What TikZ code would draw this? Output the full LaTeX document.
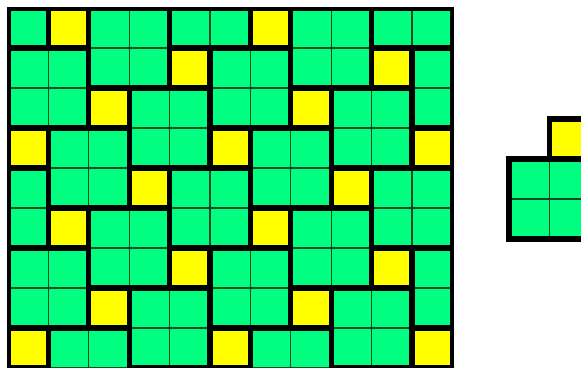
\documentclass[tikz,border=0pt]{standalone}
\definecolor{pgreen}{RGB}{0,255,128}
\definecolor{pyellow}{RGB}{255,255,0}
\definecolor{thinline}{RGB}{20,70,40}
\tikzset{
  cellbox/.style={draw=thinline, line width=1.1pt},
  outline/.style={draw=black, line width=5.2pt, line join=miter},
}
\begin{document}
\begin{tikzpicture}[x=1pt,y=-1pt]
\useasboundingbox (0,0) rectangle (581,367);
\def\W{40.4}
\def\H{40}
\begin{scope}
  \clip (8.5,8.5) rectangle (451.5,380);
  % cells
  \foreach \r in {0,...,9} {
    \foreach \c in {0,...,10} {
      \pgfmathtruncatemacro\m{mod(1+3*\r-\c+50,5)}
      \ifnum\m=0 \def\fc{pyellow}\else\def\fc{pgreen}\fi
      \path[cellbox, fill=\fc] (8+\c*\W, 8+\r*\H) rectangle ++(\W,\H);
    }
  }
  % piece outlines: yellow squares and 2x2 green blocks
  \foreach \r in {-2,...,9} {
    \foreach \c in {-1,...,11} {
      \pgfmathtruncatemacro\m{mod(1+3*\r-\c+50,5)}
      \ifnum\m=0
        \path[outline] (8+\c*\W, 8+\r*\H) rectangle ++(\W,\H);
        \path[outline] (8+\c*\W-\W, 8+\r*\H+\H) rectangle ++(2*\W,2*\H);
      \fi
    }
  }
\end{scope}
% outer frame
\draw[line width=4pt] (8.5,380) -- (8.5,8.5) -- (451.5,8.5) -- (451.5,380);
% single piece on the right
\path[cellbox, fill=pgreen] (509,159) rectangle ++(\W,\H);
\path[cellbox, fill=pgreen] (509+\W,159) rectangle ++(\W,\H);
\path[cellbox, fill=pgreen] (509,159+\H) rectangle ++(\W,\H);
\path[cellbox, fill=pgreen] (509+\W,159+\H) rectangle ++(\W,\H);
\path[cellbox, fill=pyellow] (509+\W,119) rectangle ++(\W,\H);
\path[outline] (509,159) rectangle ++(2*\W,2*\H);
\path[outline] (509+\W,119) rectangle ++(\W,\H);
\end{tikzpicture}
\end{document}
